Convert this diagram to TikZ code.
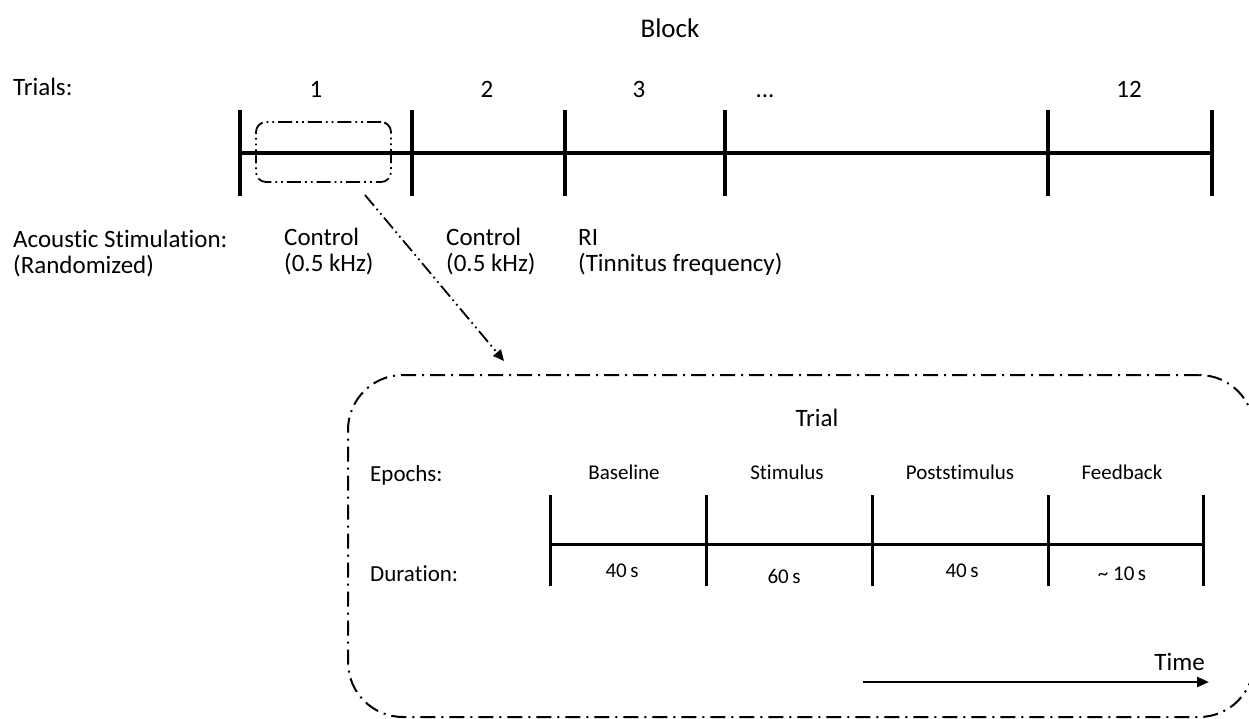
\documentclass[tikz,border=0pt]{standalone}
\usepackage{fontspec}
\setmainfont[Ligatures={NoCommon}]{Carlito}
\usetikzlibrary{arrows.meta}

\begin{document}
\begin{tikzpicture}[x=1pt,y=-1pt,
  biglbl/.style={inner sep=0pt,align=left,font=\fontsize{25}{26}\selectfont},
  midlbl/.style={inner sep=0pt,font=\fontsize{23}{23}\selectfont},
  smalllbl/.style={inner sep=0pt,font=\fontsize{21}{21}\selectfont},
  axis/.style={line width=3.5pt},
  trialtick/.style={line width=3.5pt},
  epochaxis/.style={line width=3pt},
  epochtick/.style={line width=3pt},
  ddotline/.style={line width=1.8pt,dash pattern=on 14pt off 4pt on 1.8pt off 4pt on 1.8pt off 4pt},
  dotline/.style={line width=2pt,dash pattern=on 15pt off 6pt on 2pt off 6pt}]
\useasboundingbox (0,0) rectangle (1249,718);
% block of trials
\coordinate (TopTick0) at (240,153);
\coordinate (TopTick1) at (412,153);
\coordinate (TopTick2) at (565,153);
\coordinate (TopTick3) at (725,153);
\coordinate (TopTick4) at (1048,153);
\coordinate (TopTick5) at (1212,153);
\node[biglbl,anchor=base,font=\fontsize{27}{27}\selectfont] (BlockTitle) at (670,37) {Block};
\node[biglbl,anchor=base west] (TrialsLabel) at (13,95) {Trials:};
\node[biglbl,anchor=base] (TrialNum1) at (316,97) {1};
\node[biglbl,anchor=base] (TrialNum2) at (487,97) {2};
\node[biglbl,anchor=base] (TrialNum3) at (639,97) {3};
\node[biglbl,anchor=base] (TrialDots) at (765,97) {...};
\node[biglbl,anchor=base] (TrialNum12) at (1129,97) {12};
\draw[axis] (TopTick0) -- (TopTick5);
\draw[trialtick] ([yshift=43pt]TopTick0) -- ([yshift=-43pt]TopTick0);
\draw[trialtick] ([yshift=43pt]TopTick1) -- ([yshift=-43pt]TopTick1);
\draw[trialtick] ([yshift=43pt]TopTick2) -- ([yshift=-43pt]TopTick2);
\draw[trialtick] ([yshift=43pt]TopTick3) -- ([yshift=-43pt]TopTick3);
\draw[trialtick] ([yshift=43pt]TopTick4) -- ([yshift=-43pt]TopTick4);
\draw[trialtick] ([yshift=43pt]TopTick5) -- ([yshift=-43pt]TopTick5);
\node[biglbl,anchor=base west] (StimLabel) at (13,273) {Acoustic Stimulation:\\(Randomized)};
\node[biglbl,anchor=base west] (StimOne) at (284,271) {Control\\(0.5 kHz)};
\node[biglbl,anchor=base west] (StimTwo) at (446,271) {Control\\(0.5 kHz)};
\node[biglbl,anchor=base west] (StimThree) at (578,271) {RI\\(Tinnitus frequency)};
% zoom into one trial
\node[draw,ddotline,rounded corners=10pt,inner sep=0pt,
  minimum width=135pt,minimum height=60pt] (ZoomBox) at (323.5,152) {};
\node[draw,dotline,rounded corners=55pt,inner sep=0pt,
  minimum width=906pt,minimum height=342pt] (TrialBox) at (801,546) {};
\coordinate (ZoomStart) at (365,195);
\coordinate (ZoomEnd) at (504,361);
\draw[ddotline,-{Triangle[length=11pt,width=10pt]}] (ZoomStart) -- (ZoomEnd);
% one trial
\coordinate (EpochTick0) at (550,544);
\coordinate (EpochTick1) at (706,544);
\coordinate (EpochTick2) at (872,544);
\coordinate (EpochTick3) at (1048,544);
\coordinate (EpochTick4) at (1203,544);
\node[biglbl,anchor=base] (TrialTitle) at (817,426) {Trial};
\node[midlbl,anchor=base west] (EpochsLabel) at (370,481) {Epochs:};
\node[midlbl,anchor=base west] (DurationLabel) at (370,581) {Duration:};
\node[smalllbl,anchor=base] (BaselineLabel) at (624,479) {Baseline};
\node[smalllbl,anchor=base] (StimulusLabel) at (787,479) {Stimulus};
\node[smalllbl,anchor=base] (PoststimLabel) at (960,479) {Poststimulus};
\node[smalllbl,anchor=base] (FeedbackLabel) at (1122,479) {Feedback};
\draw[epochaxis] (EpochTick0) -- (EpochTick4);
\draw[epochtick] ([yshift=49pt]EpochTick0) -- ([yshift=-42pt]EpochTick0);
\draw[epochtick] ([yshift=49pt]EpochTick1) -- ([yshift=-42pt]EpochTick1);
\draw[epochtick] ([yshift=49pt]EpochTick2) -- ([yshift=-42pt]EpochTick2);
\draw[epochtick] ([yshift=49pt]EpochTick3) -- ([yshift=-42pt]EpochTick3);
\draw[epochtick] ([yshift=49pt]EpochTick4) -- ([yshift=-42pt]EpochTick4);
\node[smalllbl,anchor=base] (BaselineDur) at (622,577) {40\,s};
\node[smalllbl,anchor=base] (StimulusDur) at (784,583) {60\,s};
\node[smalllbl,anchor=base] (PoststimDur) at (962,577) {40\,s};
\node[smalllbl,anchor=base] (FeedbackDur) at (1122,580) {\textasciitilde\ 10\,s};
% time axis
\coordinate (TimeStart) at (863,682);
\coordinate (TimeEnd) at (1209,682);
\node[biglbl,anchor=base east] (TimeLabel) at (1205,670) {Time};
\draw[line width=2.5pt,-{Triangle[length=12pt,width=10pt]}] (TimeStart) -- (TimeEnd);
\end{tikzpicture}
\end{document}
